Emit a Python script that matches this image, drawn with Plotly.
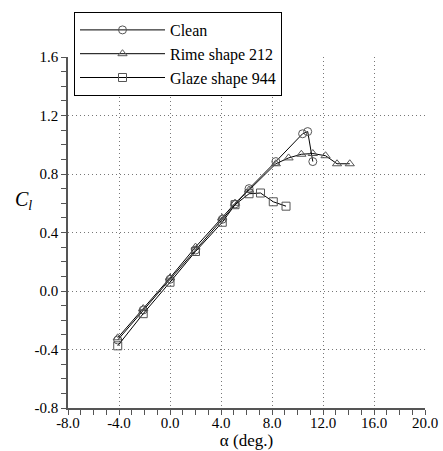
import plotly.graph_objects as go

clean_alpha = [-4.1, -2.1, 0.0, 2.0, 4.1, 5.1, 6.2, 8.3, 10.4, 10.8, 11.2]
clean_cl = [-0.335, -0.13, 0.08, 0.28, 0.49, 0.595, 0.70, 0.885, 1.075, 1.09, 0.885]

rime_alpha = [-4.1, -2.1, 0.0, 2.0, 4.1, 5.1, 6.2, 8.3, 9.3, 10.3, 11.2, 12.2, 13.1, 14.1]
rime_cl = [-0.32, -0.12, 0.09, 0.30, 0.50, 0.60, 0.69, 0.87, 0.91, 0.935, 0.94, 0.925, 0.87, 0.87]

glaze_alpha = [-4.1, -2.1, 0.0, 2.0, 4.1, 5.1, 6.2, 7.1, 8.1, 9.1]
glaze_cl = [-0.375, -0.155, 0.06, 0.27, 0.47, 0.59, 0.665, 0.67, 0.61, 0.58]

x_ticks = [-8, -4, 0, 4, 8, 12, 16, 20]
x_labels = ["-8.0", "-4.0", "0.0", "4.0", "8.0", "12.0", "16.0", "20.0"]
y_ticks = [-0.8, -0.4, 0.0, 0.4, 0.8, 1.2, 1.6]
y_labels = ["-0.8", "-0.4", "0.0", "0.4", "0.8", "1.2", "1.6"]

FONT = "Liberation Serif, Times New Roman, Times, DejaVu Serif, serif"

fig = go.Figure()
for name, xs, ys, sym in [
    ("Clean", clean_alpha, clean_cl, "circle-open"),
    ("Rime shape 212", rime_alpha, rime_cl, "triangle-up-open"),
    ("Glaze shape 944", glaze_alpha, glaze_cl, "square-open"),
]:
    fig.add_trace(go.Scatter(
        x=xs, y=ys, name=name, mode="lines+markers",
        line=dict(color="black", width=1),
        marker=dict(symbol=sym, size=8, color="#555555", line=dict(width=1, color="#555555")),
    ))

axis_common = dict(
    showline=True, linecolor="#555555", linewidth=1.7,
    ticks="outside", ticklen=5, tickcolor="#555555", tickwidth=1,
    showgrid=True, gridcolor="#777777", griddash="1px,3px", gridwidth=1,
    zeroline=False, automargin=False,
    tickfont=dict(family=FONT, size=15, color="black"),
)

fig.update_xaxes(
    range=[-8, 20], tickvals=x_ticks, ticktext=x_labels,
    ticklabelstandoff=-5,
    minor=dict(ticks="outside", dtick=1, ticklen=5, tickcolor="#555555", showgrid=False),
    title=dict(text="α (deg.)", font=dict(family=FONT, size=17, color="black"), standoff=4),
    **axis_common,
)
fig.update_yaxes(
    range=[-0.8, 1.6], tickvals=y_ticks, ticktext=y_labels,
    minor=dict(ticks="outside", dtick=0.1, ticklen=5, tickcolor="#555555", showgrid=False),
    **axis_common,
)

fig.add_annotation(
    text="<i>C</i><sub><i>l</i></sub>", xref="paper", yref="paper",
    x=-0.126, y=0.59, showarrow=False, xanchor="center", yanchor="middle",
    font=dict(family=FONT, size=20, color="black"),
)

fig.update_layout(
    width=443, height=451,
    margin=dict(l=68, r=18, t=57, b=43, autoexpand=False),
    plot_bgcolor="white", paper_bgcolor="white",
    font=dict(family=FONT),
    showlegend=True,
    legend=dict(
        xref="container", yref="container",
        x=74 / 443, y=1 - 12 / 451, xanchor="left", yanchor="top",
        bordercolor="black", borderwidth=1, bgcolor="white",
        font=dict(family=FONT, size=16, color="black"),
        itemwidth=85, tracegroupgap=0,
    ),
)

fig.write_html("out.html", config={"displayModeBar": False},
               post_script="document.body.style.margin='0';")
